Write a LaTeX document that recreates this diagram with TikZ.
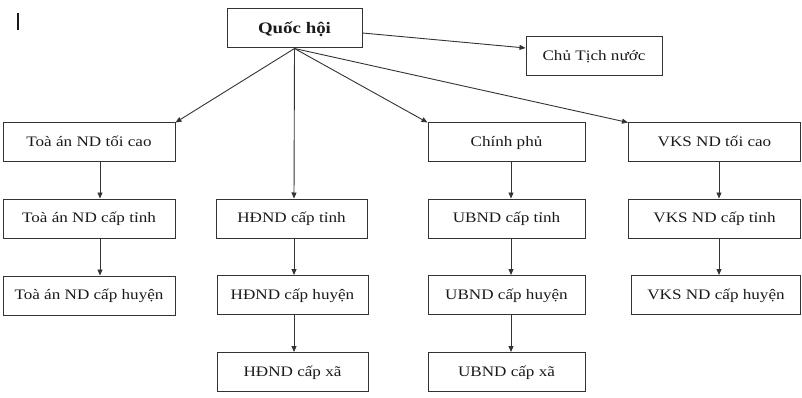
\documentclass[tikz,border=0pt]{standalone}
\usepackage{fontspec}
\setmainfont{Liberation Serif}[FakeStretch=1.18]
\usetikzlibrary{arrows.meta}
\definecolor{ln}{HTML}{333333}
\definecolor{tx}{HTML}{1A1A1A}
\tikzset{
  box/.style={draw=ln, line width=1pt, rectangle, inner sep=0pt, minimum height=39pt, text height=8.5pt, text depth=0pt, text=tx, font=\fontsize{14.5}{17}\selectfont},
  arr/.style={draw=ln, line width=0.9pt, -{Triangle[length=6pt,width=5pt]}}
}
\begin{document}
\begin{tikzpicture}[x=1pt,y=-1pt]
\useasboundingbox (0,0) rectangle (802,398);
% cursor mark
\draw[line width=1.4pt, tx] (18,13) -- (18,30);
% top
\node[box, minimum width=135pt, text height=10pt, font=\fontsize{16}{19}\selectfont\bfseries] (qh) at (294.5,28.5) {Quốc hội};
\node[box, minimum width=136pt] (ct) at (594,56.5) {Chủ Tịch nước};
% column 1
\node[box, minimum width=172pt] (ta1) at (89,142.5) {Toà án ND tối cao};
\node[box, minimum width=172pt] (ta2) at (89,218.5) {Toà án ND cấp tỉnh};
\node[box, minimum width=172pt] (ta3) at (89,295.5) {Toà án ND cấp huyện};
% column 2
\node[box, minimum width=151pt] (hd1) at (291.5,218.5) {HĐND cấp tỉnh};
\node[box, minimum width=151pt] (hd2) at (292.5,295) {HĐND cấp huyện};
\node[box, minimum width=151pt] (hd3) at (292.5,372) {HĐND cấp xã};
% column 3
\node[box, minimum width=157pt] (cp) at (506.5,142.5) {Chính phủ};
\node[box, minimum width=157pt] (ub1) at (506.5,218.5) {UBND cấp tỉnh};
\node[box, minimum width=157pt] (ub2) at (506.5,295) {UBND cấp huyện};
\node[box, minimum width=157pt] (ub3) at (506.5,372) {UBND cấp xã};
% column 4
\node[box, minimum width=172pt] (vk1) at (714.5,142.5) {VKS ND tối cao};
\node[box, minimum width=172pt] (vk2) at (714.5,218.5) {VKS ND cấp tỉnh};
\node[box, minimum width=169pt] (vk3) at (716,295) {VKS ND cấp huyện};
% arrows from Quoc hoi
\draw[arr] ([yshift=-4.5pt]qh.east) -- ([yshift=8.5pt]ct.west);
\draw[arr] (qh.south) -- (ta1.north east);
\draw[arr] (qh.south) -- ([xshift=2.5pt]hd1.north);
\draw[arr] (qh.south) -- (cp.north west);
\draw[arr] (qh.south) -- (vk1.north west);
% vertical chains
\draw[arr] ([xshift=11pt]ta1.south) -- ([xshift=11pt]ta2.north);
\draw[arr] ([xshift=11pt]ta2.south) -- ([xshift=11pt]ta3.north);
\draw[arr] ([xshift=2.5pt]hd1.south) -- ([xshift=1.5pt]hd2.north);
\draw[arr] ([xshift=1.5pt]hd2.south) -- ([xshift=1.5pt]hd3.north);
\draw[arr] ([xshift=4.5pt]cp.south) -- ([xshift=4.5pt]ub1.north);
\draw[arr] ([xshift=4.5pt]ub1.south) -- ([xshift=4.5pt]ub2.north);
\draw[arr] ([xshift=4.5pt]ub2.south) -- ([xshift=4.5pt]ub3.north);
\draw[arr] ([xshift=4.5pt]vk1.south) -- ([xshift=4.5pt]vk2.north);
\draw[arr] ([xshift=4.5pt]vk2.south) -- ([xshift=3pt]vk3.north);
\end{tikzpicture}
\end{document}
